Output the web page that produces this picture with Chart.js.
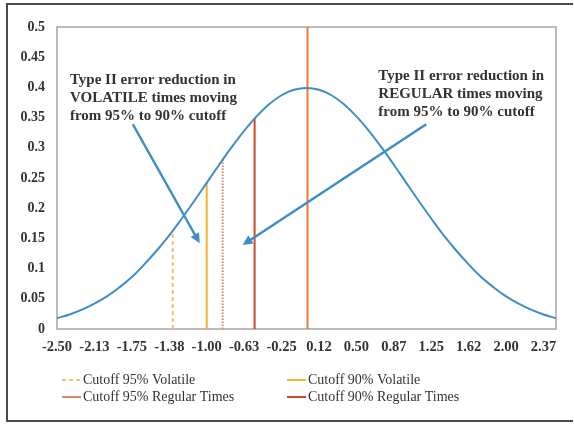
<!DOCTYPE html>
<html>
<head>
<meta charset="utf-8">
<script src="https://cdn.jsdelivr.net/npm/chart.js@4.4.0/dist/chart.umd.min.js"></script>
<style>
  html, body { margin: 0; padding: 0; background: #fff; }
  #wrap { position: relative; width: 574px; height: 426px; }
  #frame { position: absolute; left: 6px; top: 3px; width: 567px; height: 419px; border: 2px solid #4a4a4a; border-right: none; box-sizing: border-box; }
  canvas { position: absolute; left: 0; top: 0; }
</style>
</head>
<body>
<div id="wrap">
  <div id="frame"></div>
  <canvas id="normalChart" width="574" height="426"></canvas>
</div>
<script>
// density curve
const curveX = [-2.5, -2.375, -2.25, -2.125, -2.0, -1.875, -1.75, -1.625, -1.5, -1.375,
  -1.25, -1.125, -1.0, -0.875, -0.75, -0.625, -0.5, -0.375, -0.25, -0.125, 0,
  0.125, 0.25, 0.375, 0.5, 0.625, 0.75, 0.875, 1.0, 1.125, 1.25, 1.375, 1.5,
  1.625, 1.75, 1.875, 2.0, 2.125, 2.25, 2.375, 2.5];
const curveY = [0.018, 0.024, 0.032, 0.042, 0.054, 0.069, 0.086, 0.107, 0.130, 0.155,
  0.183, 0.212, 0.242, 0.272, 0.301, 0.328, 0.352, 0.372, 0.387, 0.396, 0.399,
  0.396, 0.387, 0.372, 0.352, 0.328, 0.301, 0.272, 0.242, 0.212, 0.183, 0.155, 0.130,
  0.107, 0.086, 0.069, 0.054, 0.042, 0.032, 0.024, 0.018];

// cutoff lines
const cutoffLabels = ['Cutoff 95% Volatile', 'Cutoff 90% Volatile', 'Cutoff 95% Regular Times', 'Cutoff 90% Regular Times', ''];
const cutoffX = [-1.34, -1.0, -0.84, -0.52, 0.01];
const cutoffTop = [0.163, 0.242, 0.281, 0.348, 0.5];
const cutoffColors = ['#f2c070', '#f4b42e', '#d98670', '#cf4a2c', '#ec7a34'];
const cutoffDash = [[4, 3], [], [1.5, 1.5], [], []];

const xTickLabels = ['-2.50', '-2.13', '-1.75', '-1.38', '-1.00', '-0.63', '-0.25', '0.12', '0.50', '0.87', '1.25', '1.62', '2.00', '2.37'];
const yTickValues = [0, 0.05, 0.1, 0.15, 0.2, 0.25, 0.3, 0.35, 0.4, 0.45, 0.5];

const notes = [
  { x: -2.37, y: 0.412, lines: ['Type II error reduction in', 'VOLATILE times moving', 'from 95% to 90% cutoff'] },
  { x: 0.72, y: 0.418, lines: ['Type II error reduction in', 'REGULAR times moving', 'from 95% to 90% cutoff'] }
];
const arrows = [
  { from: [-1.74, 0.339], to: [-1.07, 0.142] },
  { from: [1.20, 0.339], to: [-0.64, 0.139] }
];

const serif = "'Liberation Serif', 'DejaVu Serif', serif";

const datasets = [{
  label: 'curve',
  data: curveX.map((x, i) => ({ x: x, y: curveY[i] })),
  borderColor: '#3f8dc6',
  borderWidth: 2,
  pointRadius: 0,
  tension: 0.4,
  fill: false
}];
cutoffX.forEach((x, i) => {
  datasets.push({
    label: cutoffLabels[i],
    data: [{ x: x, y: 0 }, { x: x, y: cutoffTop[i] }],
    borderColor: cutoffColors[i],
    borderDash: cutoffDash[i],
    borderWidth: 2,
    pointRadius: 0,
    fill: false
  });
});

const extras = {
  id: 'extras',
  beforeDatasetsDraw(chart) {
    const { ctx, chartArea: a } = chart;
    ctx.save();
    ctx.strokeStyle = '#aaa4a0';
    ctx.lineWidth = 1.5;
    ctx.strokeRect(a.left, a.top, a.right - a.left, a.bottom - a.top);
    ctx.restore();
  },
  afterDraw(chart) {
    const { ctx, scales: { x, y } } = chart;
    ctx.save();
    // arrows
    ctx.strokeStyle = '#3f8dc6';
    ctx.fillStyle = '#3f8dc6';
    ctx.lineWidth = 2.5;
    arrows.forEach(ar => {
      const x1 = x.getPixelForValue(ar.from[0]), y1 = y.getPixelForValue(ar.from[1]);
      const x2 = x.getPixelForValue(ar.to[0]), y2 = y.getPixelForValue(ar.to[1]);
      const ang = Math.atan2(y2 - y1, x2 - x1);
      ctx.beginPath();
      ctx.moveTo(x1, y1);
      ctx.lineTo(x2 - 6 * Math.cos(ang), y2 - 6 * Math.sin(ang));
      ctx.stroke();
      ctx.beginPath();
      ctx.moveTo(x2, y2);
      ctx.lineTo(x2 - 11 * Math.cos(ang - 0.45), y2 - 11 * Math.sin(ang - 0.45));
      ctx.lineTo(x2 - 11 * Math.cos(ang + 0.45), y2 - 11 * Math.sin(ang + 0.45));
      ctx.closePath();
      ctx.fill();
    });
    // notes
    ctx.fillStyle = '#333';
    ctx.font = 'bold 15px ' + serif;
    ctx.textBaseline = 'middle';
    notes.forEach(n => {
      const px = x.getPixelForValue(n.x), py = y.getPixelForValue(n.y);
      n.lines.forEach((t, i) => ctx.fillText(t, px, py + i * 18));
    });
    // legend, two columns
    const colX = [62, 287], rowY = [380, 397];
    ctx.font = '14px ' + serif;
    chart.data.datasets.slice(1, 5).forEach((ds, i) => {
      const lx = colX[i % 2], ly = rowY[Math.floor(i / 2)];
      ctx.strokeStyle = ds.borderColor;
      ctx.lineWidth = 2;
      ctx.setLineDash(i === 0 ? [4, 3] : []);
      ctx.beginPath();
      ctx.moveTo(lx, ly);
      ctx.lineTo(lx + 19, ly);
      ctx.stroke();
      ctx.setLineDash([]);
      ctx.fillStyle = '#333';
      ctx.fillText(ds.label, lx + 21, ly);
    });
    ctx.restore();
  }
};

new Chart(document.getElementById('normalChart'), {
  type: 'line',
  data: { datasets: datasets },
  options: {
    responsive: false,
    animation: false,
    layout: { padding: { top: 27, right: 18, bottom: 67, left: 0 } },
    plugins: { legend: { display: false }, tooltip: { enabled: false } },
    scales: {
      x: {
        type: 'linear',
        min: -2.5,
        max: 2.5,
        grid: { display: false, drawTicks: false },
        border: { display: false },
        afterBuildTicks: s => { s.ticks = xTickLabels.map((l, i) => ({ value: -2.5 + i * 0.375 })); },
        afterFit: s => { s.height = 30; },
        ticks: {
          autoSkip: false,
          maxRotation: 0,
          padding: 10,
          color: '#333',
          font: { family: serif, size: 14.5, weight: 'bold' },
          callback: (v, i) => xTickLabels[i]
        }
      },
      y: {
        min: 0,
        max: 0.5,
        grid: { display: false, drawTicks: false },
        border: { display: false },
        afterBuildTicks: s => { s.ticks = yTickValues.map(v => ({ value: v })); },
        afterFit: s => { s.width = 57; },
        ticks: {
          padding: 12,
          color: '#333',
          font: { family: serif, size: 14, weight: 'bold' },
          callback: v => String(+v.toFixed(2))
        }
      }
    }
  },
  plugins: [extras]
});
</script>
</body>
</html>
